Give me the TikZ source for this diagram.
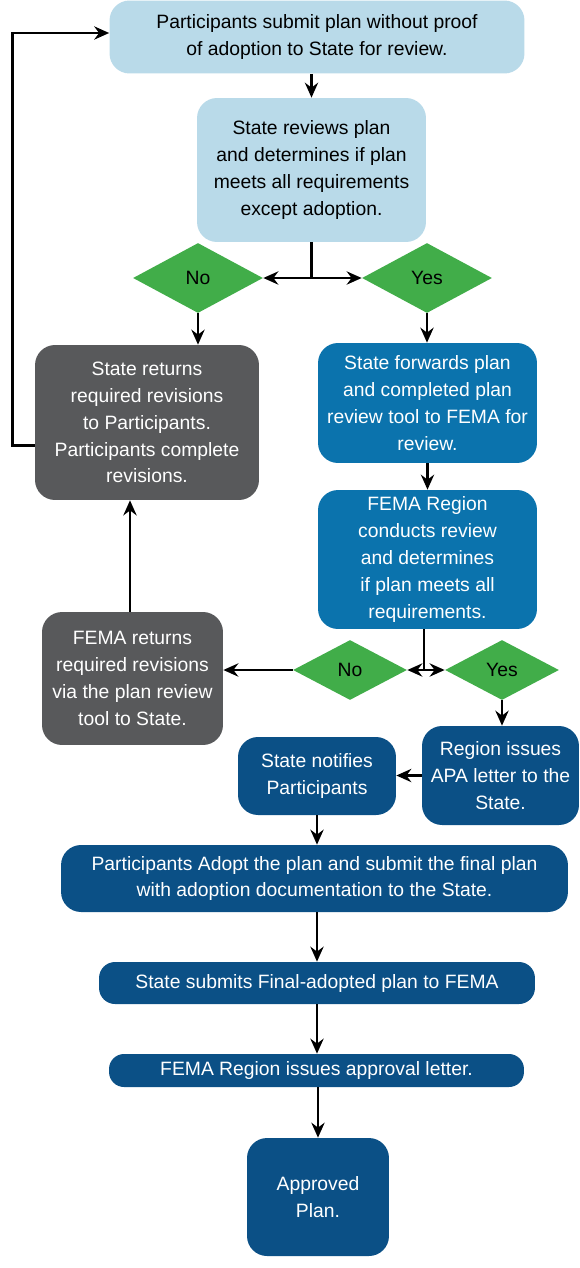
\documentclass[tikz,border=0pt]{standalone}
\usepackage{fontspec}
\setmainfont{Liberation Sans}
\usepackage{tikz}
\usetikzlibrary{shapes, arrows.meta, positioning, calc}
\definecolor{paleblue}{HTML}{B9DAE9}
\definecolor{midblue}{HTML}{0B73AD}
\definecolor{deepblue}{HTML}{0B5086}
\definecolor{greybox}{HTML}{58595B}
\definecolor{decgreen}{HTML}{41AD49}

\begin{document}
\begin{tikzpicture}[x=0.02cm, y=-0.02cm, every node/.style={font=\fontsize{11}{15.3}\selectfont}]
\tikzstyle{st}=[rounded corners=0.4cm, align=center, inner sep=2pt]
\tikzstyle{pale}=[st, fill=paleblue, text=black]
\tikzstyle{mid}=[st, fill=midblue, text=white]
\tikzstyle{deep}=[st, fill=deepblue, text=white]
\tikzstyle{grey}=[st, fill=greybox, text=white]
\tikzstyle{dec}=[diamond, fill=decgreen, inner sep=0pt, text=black]
\tikzstyle{ar}=[-{Stealth[length=8.5pt, width=7.5pt]}, line width=1.5pt]

\useasboundingbox (0,0) rectangle (579,1268);

% top part
\node[pale, minimum width=8.3cm, minimum height=1.46cm](submitdraft) at (317,37){Participants submit plan without proof\\of adoption to State for review.};
\node[pale, minimum width=4.58cm, minimum height=2.88cm](statereview) at (311.5,170){State reviews plan\\and determines if plan\\meets all requirements\\except adoption.};
\node[dec, minimum width=2.6cm, minimum height=1.4cm](no1) at (198,278){No};
\node[dec, minimum width=2.6cm, minimum height=1.4cm](yes1) at (427,278){Yes};
\node[grey, minimum width=4.48cm, minimum height=3.1cm](stateret) at (147,422.5){State returns\\required revisions\\to Participants.\\Participants complete\\revisions.};
\node[mid, minimum width=4.38cm, minimum height=2.4cm](forward) at (427.5,403){State forwards plan\\and completed plan\\review tool to FEMA for\\review.};
\node[mid, minimum width=4.38cm, minimum height=2.78cm](femareview) at (427.5,559.5){FEMA Region\\conducts review\\and determines\\if plan meets all\\requirements.};

% second decision
\node[dec, minimum width=2.28cm, minimum height=1.2cm](no2) at (350,670){No};
\node[dec, minimum width=2.28cm, minimum height=1.2cm](yes2) at (502,670){Yes};
\node[grey, minimum width=3.62cm, minimum height=2.66cm](femaret) at (132.5,678.5){FEMA returns\\required revisions\\via the plan review\\tool to State.};
\node[deep, minimum width=3.14cm, minimum height=1.98cm](apa) at (500.5,775.5){Region issues\\APA letter to the\\State.};
\node[deep, minimum width=3.16cm, minimum height=1.56cm](notify) at (317,776){State notifies\\Participants};

% bottom part
\node[deep, minimum width=10.14cm, minimum height=1.34cm](adopt) at (314.5,878.5){Participants Adopt the plan and submit the final plan\\with adoption documentation to the State.};
\node[deep, rounded corners=0.32cm, minimum width=8.72cm, minimum height=0.84cm](final) at (317,983){State submits Final-adopted plan to FEMA};
\node[deep, rounded corners=0.3cm, minimum width=8.3cm, minimum height=0.66cm](letter) at (316.5,1070.5){FEMA Region issues approval letter.};
\node[deep, minimum width=2.84cm, minimum height=2.36cm](approved) at (318,1197){Approved\\Plan.};

\draw[ar](submitdraft.south -| statereview.north)--(statereview.north);
\draw[line width=1.5pt](statereview.south) -- (statereview.south |- no1.east) coordinate(split1);
\draw[ar](split1)--(no1.east); \draw[ar](split1)--(yes1.west);
\draw[ar](no1.south)--(no1.south |- stateret.north);
\draw[ar](yes1.south)--(yes1.south |- forward.north);
\draw[ar](forward)--(femareview);
\draw[line width=1.5pt]([xshift=-0.07cm]femareview.south) -- ([xshift=-0.07cm]femareview.south |- no2.east) coordinate(split2);
\draw[ar](split2)--(no2.east); \draw[ar](split2)--(yes2.west);
\draw[ar](no2.west)--(no2.west -| femaret.east);
\draw[ar]([xshift=-0.05cm]femaret.north)--([xshift=-0.05cm]femaret.north |- stateret.south);
\draw[ar](yes2.south)--(yes2.south |- apa.north);
\draw[ar](apa.west)--(apa.west -| notify.east);
\draw[ar](notify.south)--(notify.south |- adopt.north);
\draw[ar](adopt.south -| final.north)--(final.north);
\draw[ar](final.south)--(final.south |- letter.north);
\draw[ar](letter.south -| approved.north)--(approved.north);
\draw[ar]([yshift=-0.46cm]stateret.west) -- ++(-22,0) |- ([yshift=0.08cm]submitdraft.west);
\end{tikzpicture}
\end{document}
